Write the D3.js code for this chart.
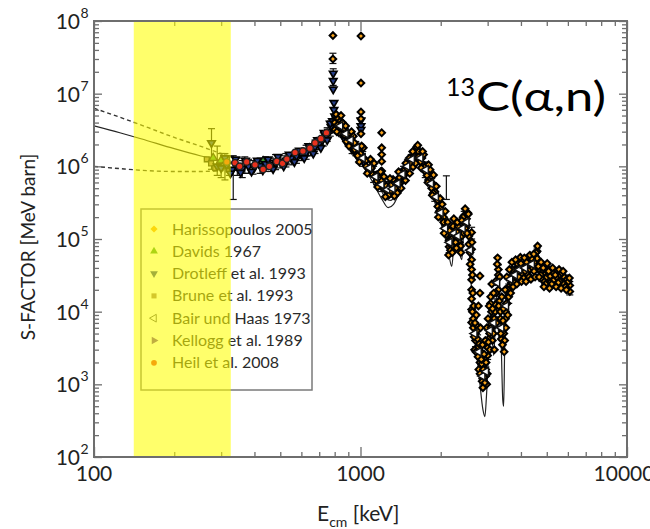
<!DOCTYPE html>
<html><head><meta charset="utf-8">
<script src="https://cdn.jsdelivr.net/npm/d3@7"></script>
<style>body{margin:0;background:#fff}svg{display:block}</style>
</head><body>
<svg id="c" width="650" height="529"></svg>
<script>
// ---------- DATA (E_cm in keV, S-factor in MeV barn) ----------
const xMajorTicks = [100, 1000, 10000];
const xTickLabels = ["100", "1000", "10000"];
const yExponents = [2, 3, 4, 5, 6, 7, 8];
const legendNames = ["Harissopoulos 2005", "Davids 1967", "Drotleff et al. 1993", "Brune et al. 1993",
  "Bair und Haas 1973", "Kellogg et al. 1989", "Heil et al. 2008"];
const shadedRange = [141, 326];

const fitSolid = [[100,3.6e6],[125,2.9e6],[150,2.4e6],[200,1.75e6],[250,1.4e6],[300,1.2e6],[350,1.08e6],
  [400,1.05e6],[450,1.08e6],[500,1.15e6],[550,1.28e6],[600,1.45e6],[650,1.7e6],[700,2.05e6],[750,2.7e6],
  [780,3.3e6],[800,3.9e6],[815,4.1e6],[830,3.8e6],[860,3.1e6],[900,2.4e6],[950,1.75e6],[1000,1.3e6],
  [1100,7.5e5],[1200,4.5e5],[1260,3.5e5],[1300,3.4e5],[1350,4.0e5],[1400,5.2e5],[1450,7.0e5],[1520,1.0e6],
  [1580,1.3e6],[1620,1.45e6],[1660,1.4e6],[1720,1.1e6],[1800,7.0e5],[1880,4.2e5],[1950,2.6e5],[2050,1.3e5],
  [2120,8.0e4],[2200,4.2e4],[2260,1.1e5],[2320,8.0e4],[2400,5.2e4],[2450,1.5e5],[2500,1.6e5],[2550,8.0e4],
  [2600,2.5e4],[2650,8.0e3],[2720,3.0e3],[2800,1.1e3],[2880,4.5e2],[2930,3.6e2],[2970,7.0e2],[3030,3.0e3],
  [3100,6.0e3],[3160,2.5e3],[3220,1.0e4],[3290,2.5e4],[3360,6.0e3],[3420,6.0e2],[3445,5.0e2],[3480,4.0e3],
  [3560,1.5e4],[3680,3.0e4],[3850,3.2e4],[4000,3.4e4],[4200,3.4e4],[4400,4.2e4],[4600,5.0e4],[4800,3.0e4],
  [5100,2.9e4],[5500,2.7e4],[6000,2.2e4]];
const fitBand = [[1000,1.15e6],[1100,6.5e5],[1200,3.6e5],[1270,2.7e5],[1330,3.0e5],[1400,4.4e5],[1480,7.0e5],
  [1560,1.05e6],[1620,1.25e6],[1700,1.05e6],[1800,6.0e5],[1900,3.2e5],[2000,1.7e5],[2100,9.0e4]];
const fitUpper = [[100,6.3e6],[130,4.5e6],[160,3.4e6],[200,2.5e6],[250,1.9e6],[300,1.5e6],[330,1.35e6]];
const fitLower = [[100,1.0e6],[130,9.2e5],[160,8.7e5],[200,8.5e5],[250,8.5e5],[300,8.7e5],[330,9.0e5]];

const harissopoulos = [[788,6.3e7],[788,3.0e7],[1004,6.2e7],[1004,1.4e7],[1004,5.6e6],[1004,4.5e6],[1004,2.8e6],
  [1201,2.9e6],[1201,1.8e6],[1201,1.45e6],[1201,1.17e6],[1201,8.6e5],
  [800,4.0e6],[800,3.2e6],[820,4.6e6],[820,3.7e6],[840,4.2e6],[840,3.4e6],[870,3.3e6],[870,2.7e6],
  [900,2.8e6],[900,2.3e6],[950,2.1e6],[950,1.7e6],[1000,1.5e6],[1000,1.25e6],[1050,1.2e6],[1050,1.0e6],
  [1100,9.5e5],[1100,8.0e5],[1150,7.6e5],[1150,6.3e5],[1200,6.3e5],[1200,5.3e5],[1250,5.4e5],[1250,4.6e5],
  [1300,5.5e5],[1300,4.6e5],[1350,6.0e5],[1350,5.0e5],[1400,7.0e5],[1400,5.8e5],[1450,8.9e5],[1450,7.4e5],
  [1500,1.1e6],[1500,9.3e5],[1550,1.3e6],[1550,1.1e6],[1600,1.6e6],[1600,1.35e6],[1650,1.6e6],[1650,1.35e6],
  [1700,1.3e6],[1700,1.1e6],[1750,1.0e6],[1750,8.5e5],[1800,7.8e5],[1800,6.5e5],[1850,6.0e5],[1850,5.0e5],
  [1900,4.5e5],[1900,3.8e5],[1950,3.4e5],[1950,2.8e5],[2000,2.6e5],[2000,2.2e5],[2050,2.0e5],[2050,1.7e5],
  [2100,1.4e5],[2100,1.15e5],[2150,9.5e4],[2150,7.8e4],[2200,1.0e5],[2200,8.0e4],[2250,1.4e5],[2250,1.15e5],
  [2300,1.25e5],[2300,1.0e5],[2350,1.1e5],[2350,9.0e4],[2400,1.35e5],[2400,1.1e5],[2450,2.1e5],[2450,1.7e5],
  [2500,1.9e5],[2500,1.55e5],[2550,1.1e5],[2550,8.5e4],
  [2612,1.23e5],[2612,7.2e4],[2612,5.2e4],[2612,3.8e4],[2612,2.75e4],[2612,2.0e4],[2612,1.5e4],[2612,1.07e4],[2612,7.1e3],
  [2650,6.0e3],[2650,8.0e3],[2700,5.0e3],[2700,4.0e3],[2750,3.2e3],[2750,4.2e3],
  [2807,3.1e4],[2807,1.8e4],[2807,2.5e3],[2807,2.0e3],[2850,1.5e3],[2850,1.9e3],[2900,1.1e3],[2900,1.3e3],
  [2950,1.6e3],[2950,1.3e3],[3000,3.2e3],[3000,2.5e3],[3050,6.3e3],[3050,5.0e3],[3100,1.0e4],[3100,8.0e3],
  [3150,6.3e3],[3150,5.0e3],[3200,1.25e4],[3200,1.0e4],[3290,3.8e4],[3290,3.2e4],[3290,2.0e4],
  [3350,1.0e4],[3350,8.0e3],[3400,5.6e3],[3400,5.0e3],[3450,5.0e3],[3450,6.3e3],[3500,8.0e3],[3500,1.0e4],
  [3550,1.6e4],[3550,1.3e4],[3600,1.6e4],[3600,2.2e4],[3680,3.1e4],[3680,2.5e4],[3750,3.5e4],[3750,2.8e4],
  [3830,3.8e4],[3830,3.0e4],[3900,4.2e4],[3900,3.4e4],[3960,4.2e4],[3960,3.4e4],[4050,4.0e4],[4050,3.2e4],
  [4150,4.5e4],[4150,3.6e4],[4250,4.0e4],[4250,3.2e4],[4330,4.7e4],[4330,3.8e4],[4430,5.0e4],[4430,4.0e4],
  [4530,5.8e4],[4530,4.7e4],[4600,6.8e4],[4600,5.4e4],[4700,4.6e4],[4700,3.7e4],[4800,3.5e4],[4800,2.8e4],
  [4900,3.2e4],[4900,2.6e4],[5000,3.8e4],[5000,3.0e4],[5150,3.1e4],[5150,2.5e4],[5300,3.4e4],[5300,2.7e4],
  [5450,3.0e4],[5450,2.4e4],[5600,3.2e4],[5600,2.6e4],[5800,3.0e4],[5800,2.4e4],[5950,2.8e4],[5950,2.2e4],
  [6100,2.3e4],[6100,1.9e4],
  [810,5.2e6],[830,2.9e6],[855,4.0e6],[885,2.2e6],[925,3.0e6],[975,1.4e6],[1025,1.8e6],[1075,8.5e5],
  [1125,1.1e6],[1175,5.6e5],[1225,7.2e5],[1275,4.0e5],[1325,6.6e5],[1375,4.3e5],[1425,8.2e5],[1475,6.4e5],
  [1525,1.3e6],[1575,9.8e5],[1625,1.85e6],[1675,1.15e6],[1725,1.45e6],[1775,7.5e5],[1825,9.0e5],[1875,4.3e5],
  [1925,5.3e5],[1975,2.4e5],[2025,3.0e5],[2075,1.4e5],[2125,1.7e5],[2175,7.0e4],[2225,1.5e5],[2275,9.0e4],
  [2325,1.5e5],[2375,8.0e4],[2425,2.0e5],[2475,1.4e5],[2525,2.3e5],[2575,6.5e4],[2630,1.0e4],[2680,3.0e3],
  [2725,6.5e3],[2780,1.6e3],[2830,2.8e3],[2880,9.0e2],[2925,2.2e3],[2975,1.0e3],[3025,4.2e3],[3075,1.3e4],
  [3125,4.0e3],[3175,8.0e3],[3230,1.8e4],[3260,4.5e4],[3320,1.4e4],[3375,4.2e3],[3425,7.5e3],[3475,4.0e3],
  [3525,1.3e4],[3575,2.0e4],[3640,2.8e4],[3710,3.8e4],[3790,2.5e4],[3870,4.6e4],[3930,3.0e4],[4000,4.6e4],
  [4100,2.9e4],[4200,4.8e4],[4290,3.0e4],[4380,5.4e4],[4480,3.6e4],[4560,6.5e4],[4650,4.2e4],[4750,3.2e4],
  [4850,4.0e4],[4950,2.4e4],[5080,3.6e4],[5220,2.4e4],[5380,3.2e4],[5520,2.5e4],[5700,3.4e4],[5870,2.2e4],
  [6030,2.6e4],
  [815,3.0e6],[845,5.0e6],[880,3.6e6],[905,1.9e6],[940,2.6e6],[990,1.15e6],[1010,1.9e6],[1060,8.0e5],
  [1090,1.25e6],[1160,5.2e5],[1190,8.4e5],[1240,3.8e5],[1290,6.8e5],[1340,3.9e5],[1390,8.4e5],[1420,5.0e5],
  [1480,1.1e6],[1530,8.0e5],[1570,1.6e6],[1610,1.1e6],[1640,1.95e6],[1690,9.5e5],[1710,1.6e6],[1790,6.0e5],
  [1800,1.05e6],[1860,4.0e5],[1880,7.6e5],[1960,2.0e5],[1990,3.6e5],[2060,1.2e5],[2080,2.4e5],[2140,6.0e4],
  [2160,1.3e5],[2210,6.5e4],[2240,1.9e5],[2290,7.5e4],[2310,1.7e5],[2380,6.5e4],[2400,1.8e5],[2440,1.2e5],
  [2470,2.6e5],[2510,1.2e5],[2540,2.2e5],[2580,4.5e4],
  [2620,9.0e4],[2630,3.2e4],[2640,1.8e4],[2660,1.2e4],[2670,4.5e3],[2690,7.0e3],[2710,2.8e3],[2720,9.0e3],
  [2740,5.5e3],[2760,2.4e3],[2770,1.2e4],[2790,3.6e3],[2810,1.4e3],[2820,6.0e3],[2840,2.2e3],[2860,1.1e3],
  [2870,3.5e3],[2890,1.6e3],[2910,2.6e3],[2930,1.05e3],[2940,4.0e3],[2960,2.0e3],[2980,6.0e3],[2990,1.4e3],
  [3010,8.0e3],[3020,3.8e3],[3040,1.2e4],[3060,3.0e3],[3080,1.6e4],[3090,6.0e3],[3110,2.4e4],[3130,1.1e4],
  [3160,1.8e4],[3180,3.0e3],[3210,2.6e4],[3240,7.0e3],[3270,5.5e4],[3300,1.2e4],[3330,3.0e4],[3360,5.0e3],
  [3390,1.6e4],[3410,3.5e3],[3440,1.1e4],[3460,2.8e3],[3490,2.0e4],[3510,6.0e3],[3540,3.0e4],[3570,9.0e3],
  [3620,3.8e4],[3660,1.8e4],
  [3700,4.8e4],[3740,2.2e4],[3820,5.2e4],[3860,2.4e4],[3980,5.6e4],[4020,2.6e4],[4120,5.5e4],[4180,2.6e4],
  [4320,6.0e4],[4360,2.8e4],[4470,6.2e4],[4520,3.0e4],[4620,8.0e4],[4680,3.0e4],[4760,4.8e4],[4880,2.2e4],
  [5020,4.6e4],[5120,2.1e4],[5260,4.0e4],[5420,2.2e4],[5560,3.8e4],[5660,2.1e4],[5760,3.6e4],[5920,2.0e4],
  [6080,2.9e4]];
const davids = [[280,1.3e6],[300,1.2e6],[431,1.17e6],[520,1.2e6],[620,1.5e6]];
const drotleff = [[276,2.1e6],[290,1.0e6],[300,9.5e5],[315,1.05e6],[330,9.0e5],[345,1.0e6],[360,9.3e5],[380,1.0e6],
  [400,9.6e5],[420,1.02e6],[440,1.08e6],[460,1.05e6],[480,1.12e6],[500,1.15e6],[525,1.2e6],[550,1.3e6],
  [575,1.38e6],[600,1.45e6],[625,1.55e6],[650,1.7e6],[675,1.85e6],[700,2.05e6],[720,2.3e6],[740,2.6e6],
  [760,3.0e6],[775,3.5e6],[785,4.2e6],[790,1.9e7],[790,1.5e7],[790,1.15e7],[795,7.5e6],[795,6.0e6],[800,4.9e6],
  [810,4.4e6],[830,3.4e6],[850,2.8e6],[875,2.3e6],[900,2.0e6],[930,1.7e6],[960,1.5e6],[990,1.3e6],
  [1004,4.3e6],[1004,3.6e6],[1004,3.2e6],[1030,1.15e6],[1060,9.5e5],[1085,8.5e5],
  [310,1.3e6],[325,8.0e5],[340,1.25e6],[355,8.2e5],[370,1.2e6],[390,8.5e5],[410,1.2e6],[430,8.8e5],
  [450,1.25e6],[470,9.2e5],[490,1.35e6],[515,1.0e6],[540,1.45e6],[565,1.15e6],[590,1.65e6],[615,1.3e6],
  [640,1.9e6],[665,1.5e6],[690,2.3e6],[710,1.8e6],[730,2.9e6],[750,2.3e6],[770,3.9e6]];
const brune = [[265,1.25e6],[275,1.1e6],[285,9.5e5],[295,1.05e6],[305,1.0e6],[320,9.0e5],[340,9.5e5],[360,1.0e6]];
const bair = [[840,3.6e6],[880,2.8e6],[920,2.3e6],[970,1.8e6],[1020,1.3e6],[1080,9.5e5],[1140,7.2e5],[1200,5.6e5],
  [1260,4.8e5],[1320,4.9e5],[1380,5.8e5],[1440,7.8e5],[1500,1.0e6],[1560,1.25e6],[1680,1.3e6],[1760,9.0e5],
  [1840,5.8e5],[1920,3.8e5],[2000,2.3e5],[2080,1.4e5],[2160,9.0e4],[2240,1.2e5],[2320,1.1e5],[2420,1.4e5],
  [2500,1.7e5],[2580,7.0e4],[2680,5.0e3],[2780,2.8e3],[2870,1.3e3],[2960,1.5e3],[3060,5.5e3],[3160,7.0e3],
  [3260,2.5e4],[3380,6.0e3],[3520,1.2e4],[3650,2.8e4],[3800,3.2e4],[3950,3.8e4],[4150,4.0e4],[4400,4.5e4]];
const kellogg = [[480,1.1e6],[540,1.3e6],[600,1.45e6],[660,1.8e6],[720,2.3e6],[780,3.1e6]];
const heil = [[315,1.15e6],[338,1.12e6],[352,1.0e6],[374,1.15e6],[402,1.05e6],[431,9.1e5],[455,1.0e6],[485,1.17e6],
  [510,1.1e6],[529,1.26e6],[568,1.55e6],[608,1.62e6],[646,1.78e6],[675,2.1e6],[710,2.4e6],[745,2.9e6]];
// error bars: [E, low, high]
const errorBars = [[276,9.1e5,3.3e6],[290,7.5e5,1.9e6],[300,7.0e5,1.5e6],[310,6.5e5,1.5e6],[333,3.5e5,1.4e6],
  [345,7.5e5,1.3e6],[360,7.0e5,1.2e6],[380,8.0e5,1.25e6],[420,8.0e5,1.3e6],[460,8.5e5,1.3e6],[500,9.5e5,1.4e6],
  [550,1.05e6,1.55e6],[600,1.2e6,1.75e6],[650,1.4e6,2.0e6],[700,1.7e6,2.5e6],[750,2.2e6,3.4e6],[788,2.6e7,3.6e7],
  [790,1.3e7,2.2e7],[800,3.0e6,5.0e6],[840,3.0e6,4.8e6],[900,2.0e6,3.0e6],[960,1.4e6,2.2e6],[1020,1.0e6,1.6e6],
  [1080,7.5e5,1.15e6],[1150,5.6e5,8.5e5],[1250,4.0e5,6.2e5],[1350,4.3e5,6.8e5],[1450,6.5e5,1.0e6],[1550,9.5e5,1.45e6],
  [1620,1.1e6,1.8e6],[1700,9.5e5,1.45e6],[1800,5.8e5,8.8e5],[1900,3.3e5,5.2e5],[2000,1.9e5,3.0e5],[2100,3.5e5,7.4e5],
  [2250,1.0e5,1.6e5],[2450,1.5e5,2.4e5],[2612,1.0e5,1.45e5],[2750,2.8e3,4.8e3],[2900,9.0e2,1.5e3],[3100,7.0e3,1.2e4],
  [3290,2.8e4,4.4e4],[3450,4.2e3,7.5e3],[3900,3.0e4,4.6e4],[4330,3.5e4,5.2e4],[4600,5.0e4,7.5e4],[5000,2.7e4,4.2e4],
  [5600,2.3e4,3.5e4],[6100,1.7e4,2.6e4],
  [322,7.5e5,1.35e6],[368,8.0e5,1.35e6],[395,7.8e5,1.2e6],[440,8.5e5,1.35e6],[480,9.0e5,1.45e6],[525,9.8e5,1.5e6],
  [575,1.1e6,1.7e6],[625,1.25e6,1.95e6],[675,1.5e6,2.3e6],[725,1.9e6,2.9e6],[770,2.6e6,4.2e6],[860,2.5e6,3.9e6],
  [930,1.5e6,2.5e6],[990,1.1e6,1.8e6],[1120,6.0e5,1.0e6],[1200,4.5e5,7.0e5],[1300,3.8e5,6.0e5],[1400,4.8e5,8.0e5],
  [1500,8.0e5,1.25e6],[1660,1.1e6,1.75e6],[1750,7.0e5,1.15e6],[1850,4.0e5,6.8e5],[1950,2.3e5,3.8e5],[2050,1.4e5,2.3e5],
  [2150,6.5e4,1.1e5],[2350,8.0e4,1.4e5],[2550,7.0e4,1.3e5],[2700,3.3e3,6.0e3],[2850,1.2e3,2.2e3],[3000,2.2e3,4.0e3],
  [3200,8.5e3,1.5e4],[3380,4.5e3,8.0e3],[3600,1.3e4,2.4e4],[3750,2.5e4,4.0e4],[4100,3.0e4,4.8e4],[4800,2.6e4,4.0e4],
  [5300,2.4e4,3.8e4],[5900,2.1e4,3.2e4]];

// ---------- CHART ----------
const L = 94, R = 627, T = 21, B = 457;
const svg = d3.select('#c');
const x = d3.scaleLog().domain([100, 10000]).range([L, R]);
const y = d3.scaleLog().domain([1e2, 1e8]).range([B, T]);
const frameCol = '#6e6e6e';
const tickFont = '"Liberation Sans Narrow", Lato, sans-serif';
const textFont = 'Lato, "Open Sans", sans-serif';

svg.append('defs').append('clipPath').attr('id', 'pc')
  .append('rect').attr('x', L).attr('y', T).attr('width', R - L).attr('height', B - T);
const plot = svg.append('g').attr('clip-path', 'url(#pc)');

const line = d3.line().x(d => x(d[0])).y(d => y(d[1])).curve(d3.curveMonotoneX);
[fitSolid, fitBand].forEach(c => plot.append('path').datum(c).attr('d', line).attr('fill', 'none')
  .attr('stroke', '#222').attr('stroke-width', 1.2));
[fitUpper, fitLower].forEach(c => plot.append('path').datum(c).attr('d', line).attr('fill', 'none')
  .attr('stroke', '#333').attr('stroke-width', 1.4).attr('stroke-dasharray', '4,3'));

// error bars
const eb = plot.append('g').attr('stroke', '#111').attr('stroke-width', 1.2);
errorBars.forEach(d => {
  const xx = x(d[0]);
  eb.append('line').attr('x1', xx).attr('x2', xx).attr('y1', y(d[1])).attr('y2', y(d[2]));
  eb.append('line').attr('x1', xx - 3.5).attr('x2', xx + 3.5).attr('y1', y(d[1])).attr('y2', y(d[1]));
  eb.append('line').attr('x1', xx - 3.5).attr('x2', xx + 3.5).attr('y1', y(d[2])).attr('y2', y(d[2]));
});

const styles = {
  har: {type: d3.symbolSquare, size: 22, rot: 45, fill: '#f7a21b', stroke: '#000', sw: 2},
  dav: {type: d3.symbolTriangle, size: 30, rot: 0, fill: '#3c9a2e', stroke: '#111', sw: 1.3},
  dro: {type: d3.symbolTriangle, size: 24, rot: 180, fill: '#27408a', stroke: '#000', sw: 1.7},
  bru: {type: d3.symbolSquare, size: 24, rot: 0, fill: '#9a7a68', stroke: '#111', sw: 1.3},
  bai: {type: d3.symbolTriangle, size: 30, rot: -90, fill: '#ffffff', stroke: '#111', sw: 1.5},
  kel: {type: d3.symbolTriangle, size: 28, rot: 90, fill: '#6a3d9a', stroke: '#000', sw: 1.5},
  hei: {type: d3.symbolCircle, size: 34, rot: 0, fill: '#e8321e', stroke: '#222', sw: 1.4}
};
function drawSeries(data, st) {
  const sym = d3.symbol().type(st.type).size(st.size);
  plot.append('g').selectAll('path').data(data).join('path')
    .attr('d', sym)
    .attr('transform', d => `translate(${x(d[0])},${y(d[1])}) rotate(${st.rot})`)
    .attr('fill', st.fill).attr('stroke', st.stroke).attr('stroke-width', st.sw);
}
drawSeries(brune, styles.bru);
drawSeries(davids, styles.dav);
drawSeries(kellogg, styles.kel);
drawSeries(drotleff, styles.dro);
drawSeries(harissopoulos, styles.har);
drawSeries(bair, styles.bai);
drawSeries(heil, styles.hei);

// legend
const lg = svg.append('g');
lg.append('rect').attr('x', 141).attr('y', 209).attr('width', 171).attr('height', 181)
  .attr('fill', '#fff').attr('stroke', '#7a7a7a').attr('stroke-width', 1.5);
const legendStyles = [styles.har, styles.dav, styles.dro, styles.bru, styles.bai, styles.kel, styles.hei];
legendNames.forEach((name, i) => {
  const cy = 229 + i * 22.3;
  const st = legendStyles[i];
  lg.append('path').attr('d', d3.symbol().type(st.type).size(26))
    .attr('transform', `translate(154,${cy}) rotate(${st.rot})`)
    .attr('fill', st.fill).attr('stroke', st.fill === '#ffffff' ? '#555' : 'none').attr('stroke-width', 1);
  lg.append('text').attr('x', 172).attr('y', cy + 5.5).text(name)
    .attr('font-family', textFont).attr('font-size', 16).attr('fill', '#2a2a2a');
});

// axes (ticks inward, on all 4 sides)
const xMinor = [200,300,400,500,600,700,800,900,2000,3000,4000,5000,6000,7000,8000,9000];
const yMajor = yExponents.map(e => Math.pow(10, e));
const yMinor = [];
for (let e = 2; e < 8; e++) for (let m = 2; m <= 9; m++) yMinor.push(m * Math.pow(10, e));
function ax(gen, tr, vals, size) {
  const g = svg.append('g').attr('transform', tr)
    .call(gen.tickValues(vals).tickSize(size).tickFormat(''));
  g.select('.domain').remove();
  g.selectAll('line').attr('stroke', frameCol).attr('stroke-width', 1.3);
}
ax(d3.axisBottom(x), `translate(0,${B})`, xMajorTicks, -10);
ax(d3.axisBottom(x), `translate(0,${B})`, xMinor, -5);
ax(d3.axisTop(x), `translate(0,${T})`, xMajorTicks, -10);
ax(d3.axisTop(x), `translate(0,${T})`, xMinor, -5);
ax(d3.axisLeft(y), `translate(${L},0)`, yMajor, -8);
ax(d3.axisLeft(y), `translate(${L},0)`, yMinor, -5);
ax(d3.axisRight(y), `translate(${R},0)`, yMajor, -8);
ax(d3.axisRight(y), `translate(${R},0)`, yMinor, -5);

// yellow band (semi-transparent, on top)
svg.append('rect').attr('x', x(shadedRange[0])).attr('y', T + 1)
  .attr('width', x(shadedRange[1]) - x(shadedRange[0])).attr('height', B - T - 2)
  .attr('fill', '#ffff00').attr('opacity', 0.58);

svg.append('rect').attr('x', L).attr('y', T).attr('width', R - L).attr('height', B - T)
  .attr('fill', 'none').attr('stroke', frameCol).attr('stroke-width', 2);

// tick labels
xMajorTicks.forEach((v, i) => {
  svg.append('text').attr('x', i === 2 ? x(v) - 3 : x(v)).attr('y', 481).attr('text-anchor', 'middle').text(xTickLabels[i])
    .attr('font-family', tickFont).attr('font-size', 21).attr('fill', '#222');
});
yExponents.forEach(e => {
  const yy = y(Math.pow(10, e));
  svg.append('text').attr('x', 80).attr('y', yy + 8).attr('text-anchor', 'end').text('10')
    .attr('font-family', tickFont).attr('font-size', 21).attr('fill', '#222');
  svg.append('text').attr('x', 80.5).attr('y', yy - 3).text(String(e))
    .attr('font-family', tickFont).attr('font-size', 14).attr('fill', '#222');
});

// axis titles
svg.append('text').attr('transform', 'translate(35,247) rotate(-90)').attr('text-anchor', 'middle')
  .text('S-FACTOR [MeV barn]').attr('font-family', textFont).attr('font-size', 19).attr('fill', '#222');
const xt = svg.append('text').attr('x', 317).attr('y', 521).attr('font-family', textFont)
  .attr('font-size', 21).attr('fill', '#222');
xt.append('tspan').text('E');
xt.append('tspan').attr('font-size', 14).attr('dy', 6).text('cm');
xt.append('tspan').attr('dy', -6).text(' [keV]');

// reaction label
svg.append('text').attr('x', 446).attr('y', 96).text('13')
  .attr('font-family', textFont).attr('font-size', 25).attr('fill', '#000');
svg.append('text').attr('x', 476).attr('y', 111).text('C(α,n)')
  .attr('font-family', textFont).attr('font-size', 40).attr('fill', '#000')
  .attr('textLength', 130).attr('lengthAdjust', 'spacingAndGlyphs');
</script>
</body></html>
